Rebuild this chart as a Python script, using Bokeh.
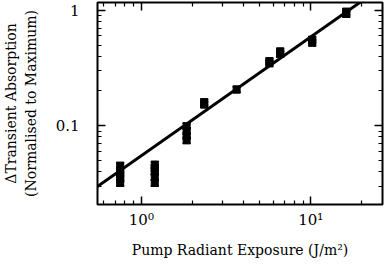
from bokeh.plotting import figure
from bokeh.models import LogAxis, FixedTicker, Range1d
from bokeh.embed import file_html
from bokeh.resources import INLINE

# measured data (pump radiant exposure J/m^2, normalised delta TA)
x_vals = [0.75, 0.75, 0.75, 0.75, 0.75,
          1.2, 1.2, 1.2, 1.2, 1.2,
          1.85, 1.85, 1.85, 1.85,
          2.35, 2.35,
          3.65,
          5.7, 5.7,
          6.6, 6.6,
          10.2, 10.2,
          16.2, 16.2]
y_vals = [0.045, 0.041, 0.038, 0.035, 0.032,
          0.046, 0.043, 0.040, 0.036, 0.032,
          0.099, 0.090, 0.082, 0.075,
          0.160, 0.153,
          0.206,
          0.348, 0.362,
          0.418, 0.440,
          0.525, 0.555,
          0.930, 0.970]
rel_err = 0.06

# fitted line endpoints
fit_x = [0.55, 25.0]
fit_y = [0.0297, 1.51]

x_major = [1, 10]
x_major_labels = {1: "10⁰", 10: "10¹"}
x_minor = [0.6, 0.7, 0.8, 0.9, 2, 3, 4, 5, 6, 7, 8, 9, 20]
y_major = [0.1, 1]
y_major_labels = {0.1: "0.1", 1: "1"}
y_minor = [0.03, 0.04, 0.05, 0.06, 0.07, 0.08, 0.09,
           0.2, 0.3, 0.4, 0.5, 0.6, 0.7, 0.8, 0.9]

FONT = "DejaVu Serif"

p = figure(width=384, height=260, x_axis_type="log", y_axis_type="log",
           x_range=Range1d(0.551, 26.5), y_range=Range1d(0.0208, 1.167),
           output_backend="svg", toolbar_location=None,
           min_border_left=96, min_border_right=2, min_border_top=2,
           min_border_bottom=49)

p.xgrid.visible = False
p.ygrid.visible = False
p.outline_line_color = "black"
p.outline_line_width = 2
p.background_fill_color = "white"
p.border_fill_color = "white"

def style(ax, labels=True):
    ax.axis_line_color = None
    ax.major_tick_in = 8
    ax.major_tick_out = 0
    ax.minor_tick_in = 4
    ax.minor_tick_out = 0
    ax.major_tick_line_width = 1.5
    ax.minor_tick_line_width = 1.2
    ax.major_tick_line_color = "black"
    ax.minor_tick_line_color = "black"
    if labels:
        ax.major_label_text_font = FONT
        ax.major_label_text_font_size = "15px"
        ax.major_label_text_color = "black"
        ax.axis_label_text_font = FONT
        ax.axis_label_text_font_size = "14px"
        ax.axis_label_text_font_style = "normal"
        ax.axis_label_text_color = "black"
    else:
        ax.major_label_text_font_size = "1px"
        ax.major_label_text_color = None
        ax.major_label_standoff = 0

xt = FixedTicker(ticks=x_major, minor_ticks=x_minor)
yt = FixedTicker(ticks=y_major, minor_ticks=y_minor)

p.xaxis.ticker = xt
p.xaxis.major_label_overrides = x_major_labels
p.xaxis.axis_label = "Pump Radiant Exposure (J/m²)"
p.xaxis.major_label_standoff = 6
p.xaxis.axis_label_standoff = 10
style(p.xaxis[0])

p.yaxis.ticker = yt
p.yaxis.major_label_overrides = y_major_labels
p.yaxis.axis_label = "ΔTransient Absorption\n(Normalised to Maximum)"
p.yaxis.major_label_standoff = 18
p.yaxis.axis_label_standoff = 14
style(p.yaxis[0])

top = LogAxis(ticker=FixedTicker(ticks=x_major, minor_ticks=x_minor))
style(top, labels=False)
p.add_layout(top, "above")
right = LogAxis(ticker=FixedTicker(ticks=y_major, minor_ticks=y_minor))
style(right, labels=False)
p.add_layout(right, "right")

# fit line
p.line(fit_x, fit_y, line_color="black", line_width=3)

# error bars
y_lo = [v * (1 - rel_err) for v in y_vals]
y_hi = [v * (1 + rel_err) for v in y_vals]
p.segment(x0=x_vals, y0=y_lo, x1=x_vals, y1=y_hi, line_color="black", line_width=2)
p.scatter(x_vals, y_lo, marker="dash", size=8, line_color="black", line_width=2)
p.scatter(x_vals, y_hi, marker="dash", size=8, line_color="black", line_width=2)

# markers
p.scatter(x_vals, y_vals, marker="square", size=7, fill_color="black", line_color="black")

open("out.html", "w").write(file_html(p, INLINE))
